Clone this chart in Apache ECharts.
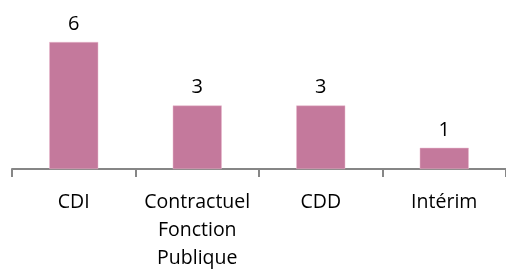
<!DOCTYPE html>
<html>
<head>
<meta charset="utf-8">
<script src="https://cdn.jsdelivr.net/npm/echarts@6/dist/echarts.min.js"></script>
<style>
html, body { margin: 0; padding: 0; background: #fff; }
#main { width: 506px; height: 272px; }
</style>
</head>
<body>
<div id="main"></div>
<script>
// données du graphique
var categories = ['CDI', 'Contractuel\nFonction\nPublique', 'CDD', 'Intérim'];
var effectifs = [6, 3, 3, 1];

var myChart = echarts.init(document.getElementById('main'));

myChart.setOption({
    animation: false,
    grid: {
        left: 12,
        right: 0,
        top: 42,
        bottom: 100
    },
    xAxis: {
        type: 'category',
        data: categories,
        axisLine: {
            lineStyle: { color: '#868686', width: 2 }
        },
        axisTick: {
            show: true,
            alignWithLabel: false,
            length: 8,
            lineStyle: { color: '#868686', width: 2 }
        },
        axisLabel: {
            interval: 0,
            margin: 19,
            color: '#000',
            fontFamily: 'Open Sans',
            fontSize: 19.5,
            lineHeight: 28
        }
    },
    yAxis: {
        type: 'value',
        min: 0,
        max: 6,
        show: false
    },
    series: [
        {
            type: 'bar',
            data: effectifs,
            barWidth: 49,
            itemStyle: {
                color: '#C4799C',
                borderColor: '#E8B8CC',
                borderWidth: 0.5
            },
            label: {
                show: true,
                position: 'top',
                distance: 8,
                color: '#000',
                fontFamily: 'Open Sans',
                fontSize: 20
            }
        }
    ]
});
</script>
</body>
</html>
